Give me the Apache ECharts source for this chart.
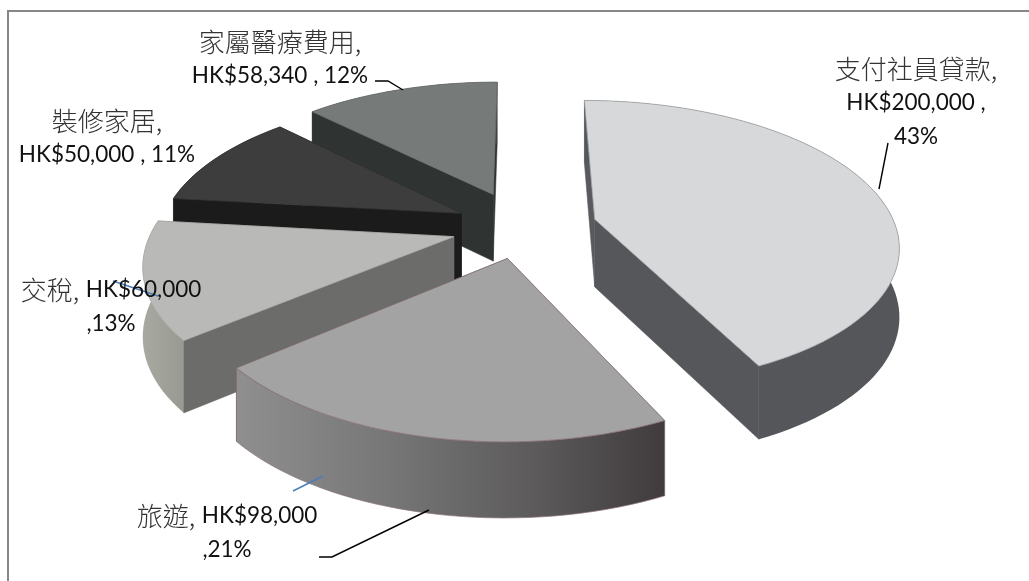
<!DOCTYPE html>
<html>
<head>
<meta charset="utf-8">
<style>html,body{margin:0;padding:0;background:#fff}#chart{width:1029px;height:581px}</style>
<script src="https://cdn.jsdelivr.net/npm/echarts@6/dist/echarts.min.js"></script>
</head>
<body>
<div id="chart"></div>
<script>
// Spending breakdown, HK$
const categories = ['支付社員貸款', '旅遊', '交稅', '裝修家居', '家屬醫療費用'];
const amounts = [200000, 98000, 60000, 50000, 58340];
const percents = [43, 21, 13, 11, 12];
// Text between the name and the amount, and between the amount and the share
const nameSeparators = ['\n', '  ', '  ', '\n', '\n'];
const shareSeparators = [' ,\n', '\n,', '\n,', ' , ', ' , '];

// Slice appearance
const topColors = ['#d7d8da', '#a4a3a4', '#b9b9b7', '#3d3d3e', '#767a79'];
const startWallColors = ['#585a5e', '#777', '#6c6c6a', '#1b1b1c', '#2f3332'];
const endWallColors = ['#55575a', '#444', '#8f8f8a', '#222', '#333'];
const rimStops = [
  [[0, '#54575b'], [1, '#54565a']],
  [[0, '#8f8f8f'], [0.35, '#777777'], [0.7, '#5c5a5b'], [1, '#403b3d']],
  [[0, '#a8aaa1'], [1, '#989a91']],
  [[0, '#222'], [1, '#222']],
  [[0, '#444'], [1, '#444']]
];
const edgeColors = ['#a0a2a4', '#8b7379', '#a8a8a4', '#333', '#6a6d6c'];
const explode = [0.25, 0.22, 0.234, 0.227, 0.26];

// Perspective model of the pie: unit disc tilted away from the viewer
const CENTER = [522, 227];
const RADIUS_X = 301;
const RADIUS_Y = 141;
const DEPTH = 6;
const THICKNESS = 68;

function project(x, y, drop) {
  const s = DEPTH / (DEPTH + y);
  return [
    CENTER[0] + x * RADIUS_X * s,
    CENTER[1] - y * RADIUS_Y * s + (drop ? THICKNESS * Math.sqrt(s) : 0)
  ];
}

const total = amounts.reduce((a, b) => a + b, 0);
const sliceRows = [];
let running = 0;
amounts.forEach((v, i) => {
  sliceRows.push({ name: categories[i], value: [v, running, i] });
  running += v;
});

function renderSlice(params, api) {
  const value = api.value(0);
  const before = api.value(1);
  const i = api.value(2);
  const a0 = before / total * 2 * Math.PI;
  const a1 = (before + value) / total * 2 * Math.PI;
  const mid = (a0 + a1) / 2;
  const ox = Math.sin(mid) * explode[i];
  const oy = Math.cos(mid) * explode[i];
  const steps = Math.max(8, Math.round((a1 - a0) / (Math.PI / 90)));
  const topArc = [], lowArc = [];
  for (let k = 0; k <= steps; k++) {
    const a = a0 + (a1 - a0) * k / steps;
    const x = ox + Math.sin(a), y = oy + Math.cos(a);
    topArc.push(project(x, y, false));
    lowArc.push(project(x, y, true));
  }
  const apexTop = project(ox, oy, false);
  const apexLow = project(ox, oy, true);
  const base = (10 - i) * 10;
  // On the left half the rim faces away, so the start wall goes over it
  const rimFirst = a0 >= Math.PI;
  const wall = (pts, fill, bump) => ({
    type: 'polygon', z2: base + bump, shape: { points: pts },
    style: { fill, stroke: fill, lineWidth: 0.5 }
  });
  const rimFill = new echarts.graphic.LinearGradient(0, 0, 1, 0,
    rimStops[i].map(s => ({ offset: s[0], color: s[1] })));
  return {
    type: 'group',
    children: [
      wall([apexTop, topArc[steps], lowArc[steps], apexLow], endWallColors[i], 1),
      wall([apexTop, topArc[0], lowArc[0], apexLow], startWallColors[i], rimFirst ? 4 : 2),
      {
        type: 'polygon', z2: base + 3,
        shape: { points: topArc.concat(lowArc.slice().reverse()) },
        style: { fill: rimFill, stroke: i === 1 ? edgeColors[i] : null, lineWidth: 0.7 }
      },
      {
        type: 'polygon', z2: base + 5,
        shape: { points: [apexTop].concat(topArc) },
        style: { fill: topColors[i], stroke: edgeColors[i], lineWidth: 0.8 }
      }
    ]
  };
}

// Label text is composed from the series arrays
const labelCenters = [[916, 103], [227, 533], [111, 307], [107, 138], [280, 59]];
function labelText(i) {
  const money = 'HK$' + amounts[i].toLocaleString('en-US');
  return '{c|' + categories[i] + ',}' + nameSeparators[i] + '{l|' + money + shareSeparators[i]
    .split('\n').join('}\n{l|') + percents[i] + '%}';
}
const labelFont = '"Lato","Open Sans",sans-serif';
const labelElements = categories.map((_, i) => ({
  type: 'text', z: 20,
  x: labelCenters[i][0], y: labelCenters[i][1],
  style: {
    text: labelText(i),
    align: 'center', verticalAlign: 'middle',
    rich: {
      c: { fontFamily: '"Noto Sans CJK TC"', fontSize: 26, fontWeight: 300, fill: '#333', lineHeight: 34 },
      l: { fontFamily: labelFont, fontSize: 22.5, fill: '#111', lineHeight: 34 }
    }
  }
}));

// Leader lines
const leaderPaths = [
  { pts: [[888, 143], [879, 189]], color: '#000' },
  { pts: [[319, 557], [332, 557], [429, 510]], color: '#000' },
  { pts: [[375, 81], [388, 81], [403, 90]], color: '#000' },
  { pts: [[293, 491], [323, 476]], color: '#4a7ebb' },
  { pts: [[113, 281], [158, 296]], color: '#4a7ebb' }
];
const leaderElements = leaderPaths.map(p => ({
  type: 'polyline', z: 19,
  shape: { points: p.pts },
  style: { stroke: p.color, fill: null, lineWidth: 1.4 }
}));

const frame = {
  type: 'polyline', z: 1,
  shape: { points: [[8, 581], [8, 11], [1029, 11]] },
  style: { stroke: '#878787', fill: null, lineWidth: 2 }
};

const chart = echarts.init(document.getElementById('chart'), null, { renderer: 'canvas' });
chart.setOption({
  animation: false,
  backgroundColor: '#fff',
  graphic: { elements: [frame].concat(leaderElements, labelElements) },
  series: [{
    type: 'custom',
    coordinateSystem: 'none',
    renderItem: renderSlice,
    data: sliceRows,
    silent: true,
    z: 5
  }]
});
</script>
</body>
</html>
